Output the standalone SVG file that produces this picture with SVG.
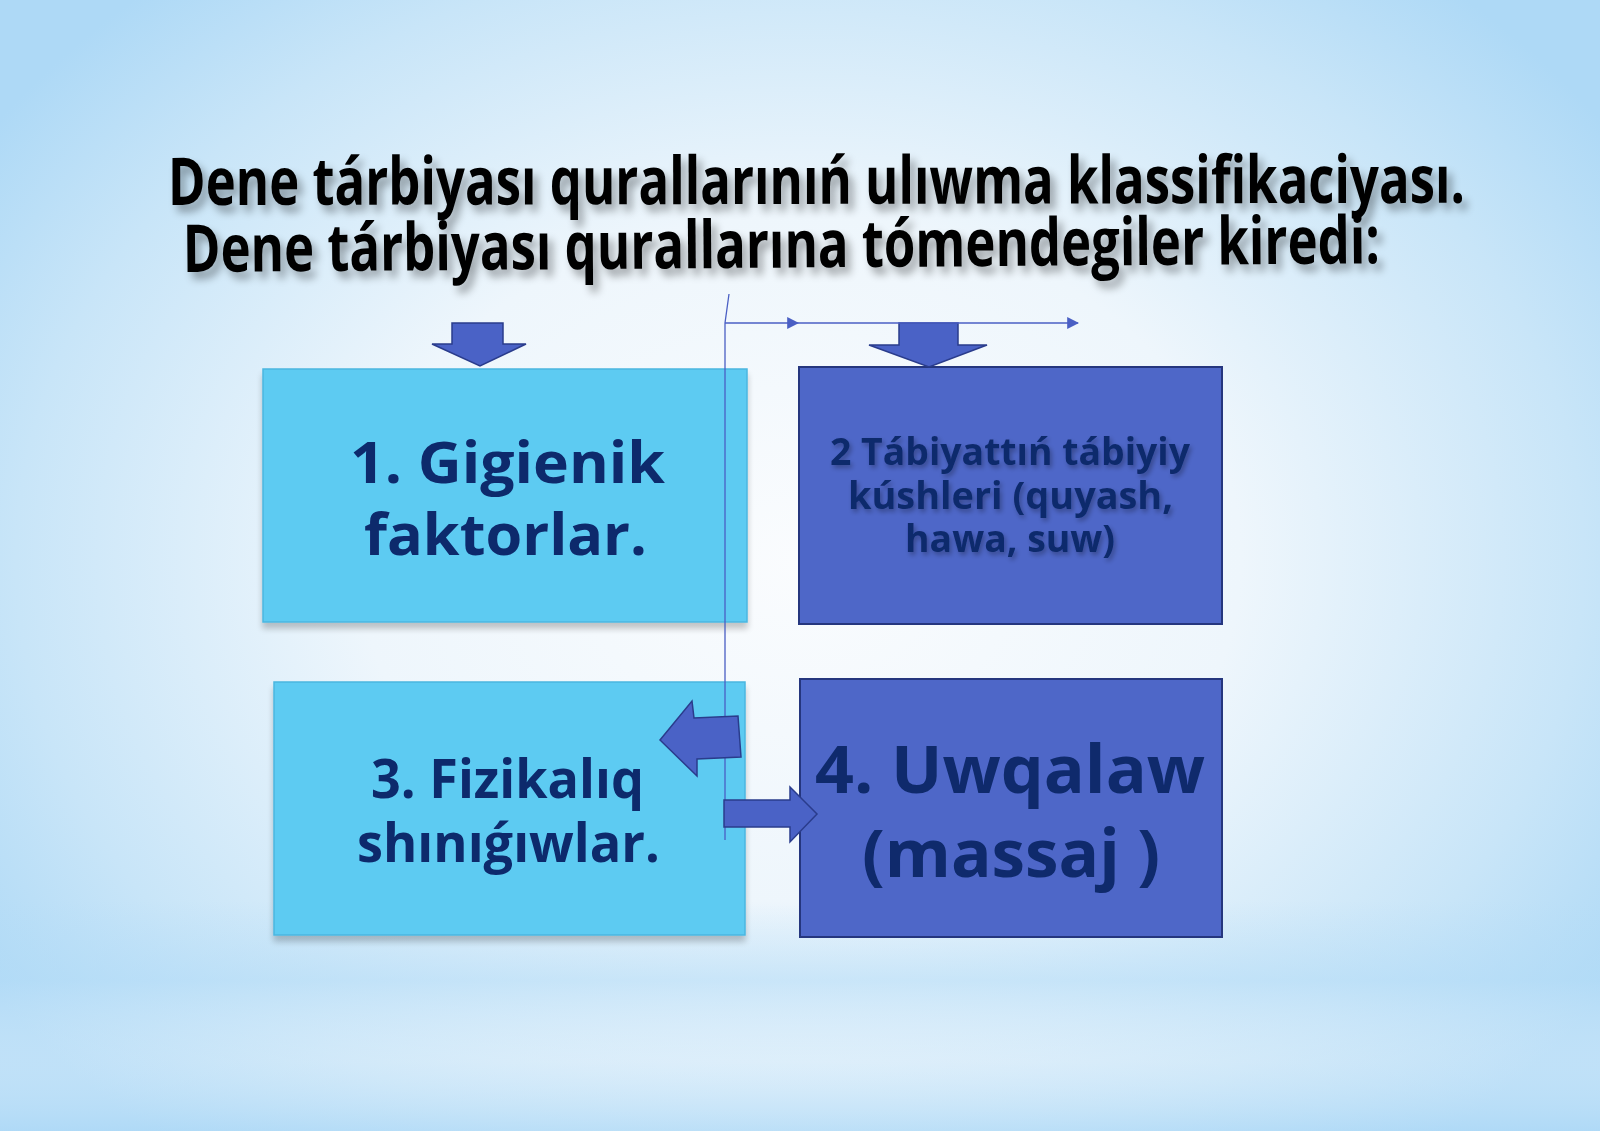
<svg xmlns="http://www.w3.org/2000/svg" width="1600" height="1131" viewBox="0 0 1600 1131">
  <defs>
    <radialGradient id="bg" cx="800" cy="560" r="980" gradientUnits="userSpaceOnUse" gradientTransform="translate(800 560) scale(1 0.78) translate(-800 -560)">
      <stop offset="0" stop-color="#FAFCFE"/>
      <stop offset="0.45" stop-color="#EEF6FC"/>
      <stop offset="0.8" stop-color="#C8E5F8"/>
      <stop offset="1" stop-color="#AED9F6"/>
    </radialGradient>
    <linearGradient id="band" x1="0" y1="0" x2="0" y2="1">
      <stop offset="0" stop-color="#B4DCF7" stop-opacity="0"/>
      <stop offset="0.35" stop-color="#B4DCF7" stop-opacity="0.55"/>
      <stop offset="0.7" stop-color="#E8F3FC" stop-opacity="0.3"/>
      <stop offset="1" stop-color="#B0DAF7" stop-opacity="0.6"/>
    </linearGradient>
    <filter id="titleShadow" filterUnits="userSpaceOnUse" x="100" y="100" width="1450" height="230">
      <feGaussianBlur in="SourceAlpha" stdDeviation="4"/>
      <feOffset dx="5" dy="7" result="b"/>
      <feComponentTransfer in="b" result="s"><feFuncA type="linear" slope="0.35"/></feComponentTransfer>
      <feMerge><feMergeNode in="s"/><feMergeNode in="SourceGraphic"/></feMerge>
    </filter>
    <filter id="boxShadow" x="-5%" y="-5%" width="110%" height="115%">
      <feGaussianBlur in="SourceAlpha" stdDeviation="3"/>
      <feOffset dx="0" dy="6" result="b"/>
      <feComponentTransfer in="b" result="s"><feFuncA type="linear" slope="0.22"/></feComponentTransfer>
      <feMerge><feMergeNode in="s"/><feMergeNode in="SourceGraphic"/></feMerge>
    </filter>
    <filter id="textGlow" x="-5%" y="-20%" width="110%" height="140%">
      <feGaussianBlur in="SourceAlpha" stdDeviation="2.5"/>
      <feOffset dx="2" dy="3" result="b"/>
      <feComponentTransfer in="b" result="s"><feFuncA type="linear" slope="0.3"/></feComponentTransfer>
      <feMerge><feMergeNode in="s"/><feMergeNode in="SourceGraphic"/></feMerge>
    </filter>
    <marker id="tri" viewBox="0 0 10 10" refX="9" refY="5" markerWidth="12" markerHeight="12" markerUnits="userSpaceOnUse" orient="auto">
      <path d="M0,0 L10,5 L0,10 z" fill="#4A5FC4"/>
    </marker>
  </defs>
  <style>
    .title { font-family: "Open Sans", "Liberation Sans", sans-serif; font-weight: 700; font-size: 66px; fill: #000000; }
    .lt { fill: #5DCBF2; stroke: #4BB6E0; stroke-width: 1.5; }
    .dk { fill: #4E67C8; stroke: #25367E; stroke-width: 2; }
    .lbl { font-family: "Open Sans", "Liberation Sans", sans-serif; font-weight: 700; fill: #0F2A6C; text-anchor: start; }
    .blk { fill: #4A62C6; stroke: #2A3C8C; stroke-width: 1.5; stroke-linejoin: miter; }
    .wire { fill: none; stroke: #4A5FC4; stroke-width: 1.3; }
  </style>

  <rect x="0" y="0" width="1600" height="1131" fill="url(#bg)"/>
  <rect x="0" y="900" width="1600" height="231" fill="url(#band)"/>

  <g id="title" filter="url(#titleShadow)">
    <text class="title" x="168" y="205" textLength="1297" lengthAdjust="spacingAndGlyphs" transform="rotate(-0.1 168 205)">Dene tárbiyası qurallarınıń ulıwma klassifikaciyası.</text>
    <text class="title" x="183" y="272" textLength="1197" lengthAdjust="spacingAndGlyphs" transform="rotate(-0.42 183 272)">Dene tárbiyası qurallarına tómendegiler kiredi:</text>
  </g>

  <g id="node1" filter="url(#boxShadow)">
    <rect class="lt" x="263" y="369" width="484" height="253"/>
    <text class="lbl" x="350" y="483" font-size="58" textLength="315" lengthAdjust="spacingAndGlyphs">1. Gigienik</text>
    <text class="lbl" x="364" y="555" font-size="58" textLength="283" lengthAdjust="spacingAndGlyphs">faktorlar.</text>
  </g>

  <g id="node2">
    <rect class="dk" x="799" y="367" width="423" height="257"/>
    <g filter="url(#textGlow)">
      <text class="lbl" x="830" y="465" font-size="37" fill="#17307A" textLength="360" lengthAdjust="spacingAndGlyphs">2 Tábiyattıń tábiyiy</text>
      <text class="lbl" x="848" y="509" font-size="37" textLength="325" lengthAdjust="spacingAndGlyphs">kúshleri (quyash,</text>
      <text class="lbl" x="905" y="552" font-size="37" textLength="210" lengthAdjust="spacingAndGlyphs">hawa, suw)</text>
    </g>
  </g>

  <g id="node3" filter="url(#boxShadow)">
    <rect class="lt" x="274" y="682" width="471" height="253"/>
    <text class="lbl" x="371" y="798" font-size="53" textLength="273" lengthAdjust="spacingAndGlyphs">3. Fizikalıq</text>
    <text class="lbl" x="357" y="862" font-size="53" textLength="303" lengthAdjust="spacingAndGlyphs">shınıǵıwlar.</text>
  </g>

  <g id="node4">
    <rect class="dk" x="800" y="679" width="422" height="258"/>
    <text class="lbl" x="815" y="793" font-size="67" textLength="390" lengthAdjust="spacingAndGlyphs">4. Uwqalaw</text>
    <text class="lbl" x="862" y="877" font-size="67" textLength="298" lengthAdjust="spacingAndGlyphs">(massaj )</text>
  </g>

  <g id="connectors">
    <polygon class="blk" points="452,323 503,323 503,344 526,344 480,366 432,344 452,344"/>
    <polygon class="blk" points="899,323 958,323 958,345 987,345 929,367 869,345 899,345"/>
    <polyline class="wire" points="729,294 725,323 725,840"/>
    <line class="wire" x1="725" y1="323" x2="798" y2="323" marker-end="url(#tri)"/>
    <line class="wire" x1="798" y1="323" x2="1078" y2="323" marker-end="url(#tri)"/>
    <polygon class="blk" points="660,740 692,701 694,718 738,716 741,757 697,759 697,776"/>
    <polygon class="blk" points="724,800 790,800 790,787 817,814 790,842 790,827 724,827"/>
  </g>
</svg>
